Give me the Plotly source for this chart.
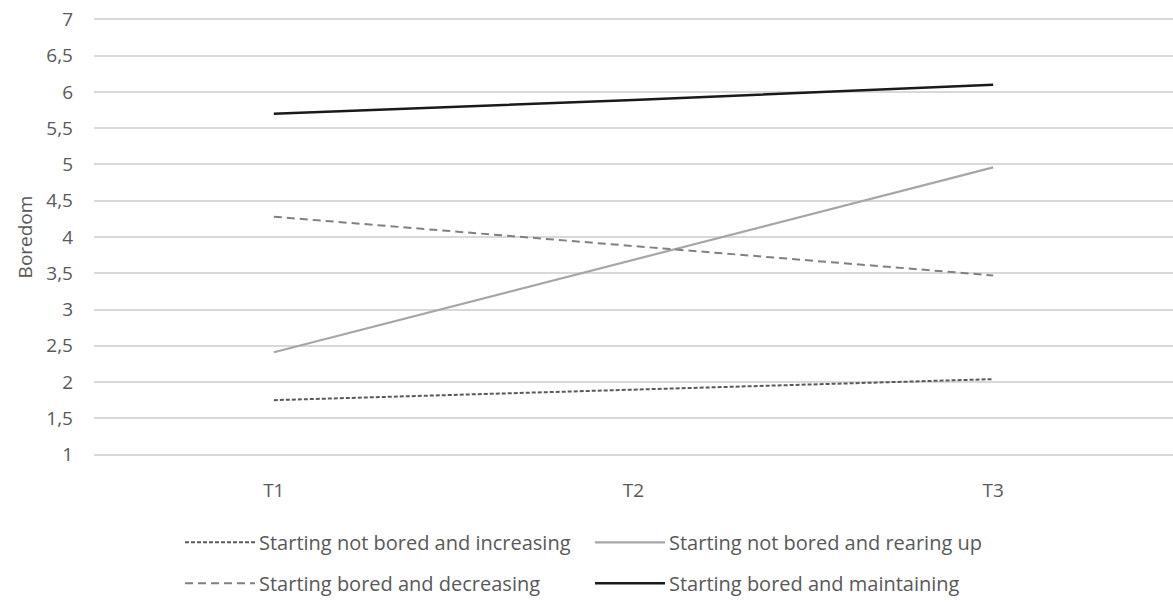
import plotly.graph_objects as go

categories = ["T1", "T2", "T3"]
series_names = [
    "Starting not bored and increasing",
    "Starting not bored and rearing up",
    "Starting bored and decreasing",
    "Starting bored and maintaining",
]
not_bored_increasing = [1.75, 1.90, 2.04]
not_bored_rearing = [2.41, 3.68, 4.96]
bored_decreasing = [4.28, 3.87, 3.47]
bored_maintaining = [5.70, 5.89, 6.10]
y_ticks = [1, 1.5, 2, 2.5, 3, 3.5, 4, 4.5, 5, 5.5, 6, 6.5, 7]

values = [not_bored_increasing, not_bored_rearing, bored_decreasing, bored_maintaining]
styles = [
    dict(color="#595959", width=2, dash="4px,2px"),
    dict(color="#a6a6a6", width=2.2, dash="solid"),
    dict(color="#808080", width=2, dash="8px,5px"),
    dict(color="#1a1a1a", width=2.5, dash="solid"),
]

FONT = "Open Sans, sans-serif"
FS = 19
FS_LEG = 20
fig = go.Figure()
for name, vals, st in zip(series_names, values, styles):
    fig.add_trace(go.Scatter(x=categories, y=vals, mode="lines", name=name,
                             line=st, showlegend=False))

W, H = 1173, 605
PPU = 436 / 6.0          # pixels per y unit
pad = 0.02
ml = 94
mt = 19 - pad * PPU
mb = 150 - pad * PPU
fig.update_layout(
    width=W, height=H,
    margin=dict(l=ml, r=0, t=mt, b=mb, autoexpand=False),
    paper_bgcolor="white", plot_bgcolor="white",
    separators=", ",
    font=dict(family=FONT, size=FS, color="#595959"),
    xaxis=dict(range=[-0.5, 2.5], showgrid=False, zeroline=False, showline=False,
               ticks="", ticklabelstandoff=int(round(20 + pad * PPU)),
               tickfont=dict(size=FS, color="#595959")),
    yaxis=dict(range=[1 - pad, 7 + pad], tickvals=y_ticks, showgrid=True, gridcolor="#d9d9d9",
               gridwidth=1.5, zeroline=False, showline=False, ticks="",
               ticklabelstandoff=20, tickfont=dict(size=FS, color="#595959"),
               title=dict(text="Boredom", font=dict(size=FS, color="#595959"), standoff=8)),
)

# custom legend (two columns, two rows) built from series names/styles
plot_h = H - mt - mb
def py(pix):
    return 1 - (pix - mt) / plot_h
def px(pix):
    return (pix - ml) / (W - ml)

pos = [(185, 543), (595, 543), (185, 584), (595, 584)]
for (x0, yc), name, st in zip(pos, series_names, styles):
    fig.add_shape(type="line", xref="paper", yref="paper",
                  x0=px(x0), x1=px(x0 + 70), y0=py(yc), y1=py(yc),
                  line=st)
    fig.add_annotation(xref="paper", yref="paper", x=px(x0 + 72), y=py(yc),
                       text=name, showarrow=False, xanchor="left", yanchor="middle",
                       font=dict(size=FS_LEG, color="#595959", family=FONT))

fig.write_html("out.html", config={"displayModeBar": False})
with open("out.html", "r", encoding="utf-8") as f:
    html = f.read()
html = html.replace("<body>", '<body style="margin:0;overflow:hidden">', 1)
with open("out.html", "w", encoding="utf-8") as f:
    f.write(html)
